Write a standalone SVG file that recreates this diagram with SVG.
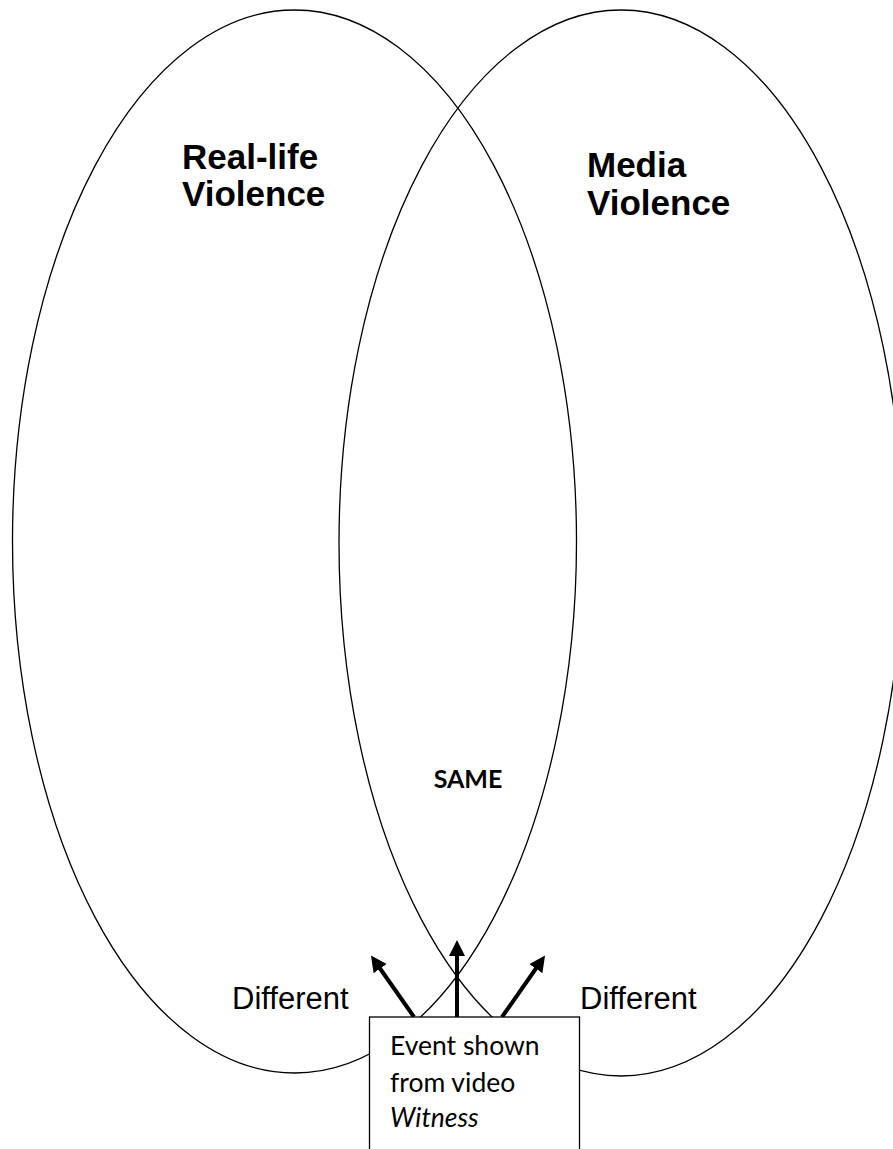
<svg xmlns="http://www.w3.org/2000/svg" width="893" height="1149" viewBox="0 0 893 1149">
<style>
.ell{fill:none;stroke:#000;stroke-width:1.3}
.title{font-family:"Liberation Sans",Arial,sans-serif;font-weight:bold;font-size:35px;fill:#000}
.diff{font-family:"Liberation Sans",Arial,sans-serif;font-size:31px;fill:#000}
.cal{font-family:Lato,"Open Sans",sans-serif;font-size:26.5px;fill:#000}
.arr{stroke:#000;stroke-width:4;fill:none;marker-end:url(#ah)}
</style>
<defs>
<marker id="ah" markerUnits="userSpaceOnUse" markerWidth="20" markerHeight="20" refX="2" refY="8" orient="auto">
<path d="M0,0 L16,8 L0,16 Z" fill="#000"/>
</marker>
</defs>
<rect width="893" height="1149" fill="#fff"/>
<g id="real-life">
<ellipse class="ell" cx="294.5" cy="541.5" rx="282" ry="531.5"/>
<text class="title" x="182" y="169">Real-life</text>
<text class="title" x="182" y="206">Violence</text>
</g>
<g id="media">
<ellipse class="ell" cx="621" cy="543" rx="282" ry="533"/>
<text class="title" x="587" y="177">Media</text>
<text class="title" x="587" y="215">Violence</text>
</g>
<g id="same">
<text x="468" y="788" text-anchor="middle" font-family="Lato,'Open Sans',sans-serif" font-weight="bold" font-size="25">SAME</text>
</g>
<g id="different-left">
<text class="diff" x="232" y="1009">Different</text>
</g>
<g id="different-right">
<text class="diff" x="580" y="1009">Different</text>
</g>
<g id="connectors">
<line class="arr" x1="414" y1="1017" x2="379" y2="967"/>
<line class="arr" x1="457" y1="1017" x2="457" y2="954"/>
<line class="arr" x1="502" y1="1017" x2="537" y2="967"/>
</g>
<g id="event">
<rect x="369.5" y="1017" width="210" height="140" fill="#fff" stroke="#000" stroke-width="1.3"/>
<text class="cal" x="390" y="1055">Event shown</text>
<text class="cal" x="390" y="1092">from video</text>
<text class="cal" x="390" y="1127" font-style="italic">Witness</text>
</g>
</svg>
